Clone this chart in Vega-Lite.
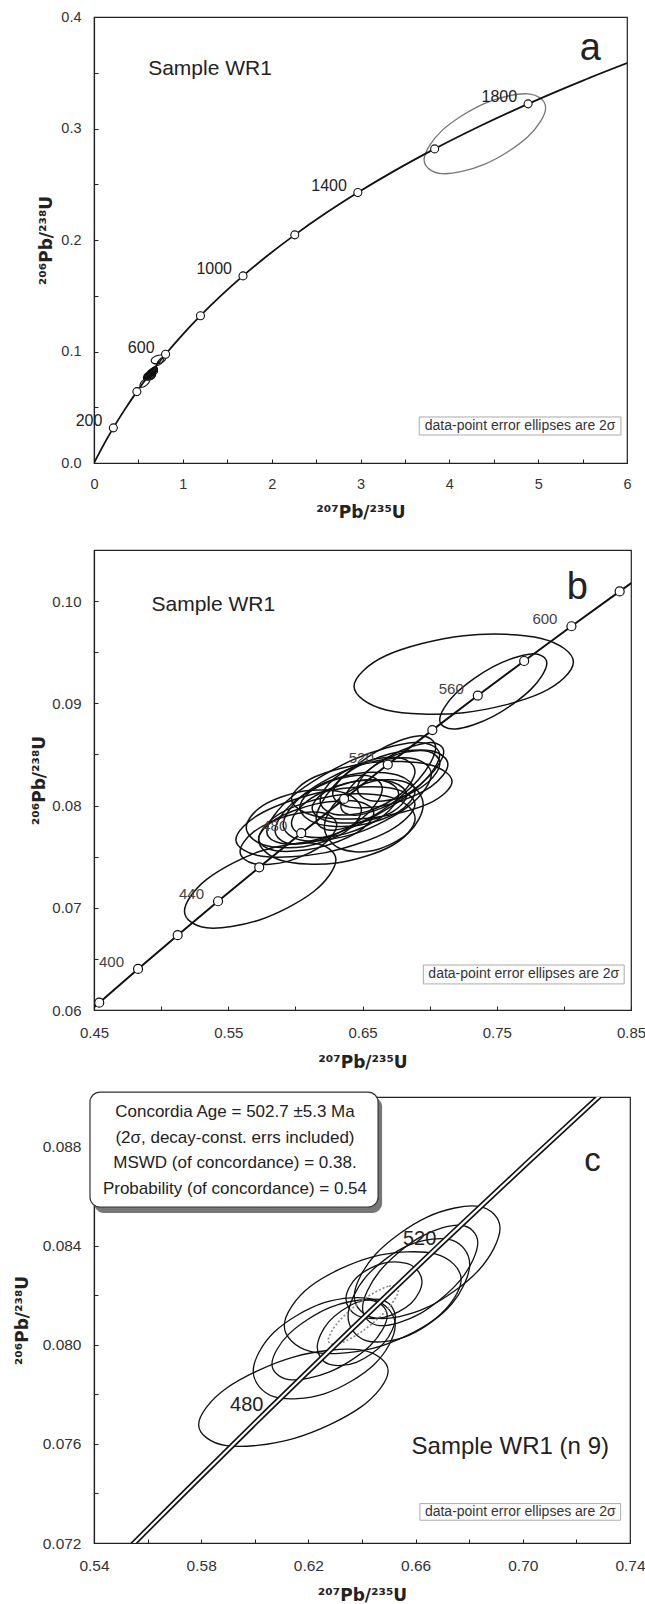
{
"$schema":"https://vega.github.io/schema/vega-lite/v6.json",
"background":"white",
"padding":{"left":12,"top":8,"right":0,"bottom":0},
"bounds":"flush",
"spacing":87,
"config":{
 "font":"Liberation Sans",
 "view":{"stroke":"#222","strokeWidth":1.2},
 "axis":{"grid":false,"domainColor":"#222","domainWidth":1.2,"tickColor":"#222","tickWidth":1,"tickSize":-4,"labelColor":"#333","labelFont":"Liberation Sans","titleFont":"DejaVu Sans","titleFontWeight":"bold","titleColor":"#222","titleFontSize":17,"labelFlush":false,"labelOverlap":false}
},
"datasets":{
 "curveA":[
  {"t":0,"x":0,"y":0},{"t":100,"x":0.1035,"y":0.015633},{"t":200,"x":0.2177,"y":0.03151},{"t":300,"x":0.34374,"y":0.04764},
  {"t":400,"x":0.48281,"y":0.06402},{"t":500,"x":0.63628,"y":0.08065},{"t":600,"x":0.80563,"y":0.09754},{"t":700,"x":0.99251,"y":0.1147},
  {"t":800,"x":1.19873,"y":0.13213},{"t":900,"x":1.42629,"y":0.14983},{"t":1000,"x":1.67741,"y":0.16782},{"t":1100,"x":1.95452,"y":0.18607},
  {"t":1200,"x":2.2603,"y":0.2046},{"t":1300,"x":2.59774,"y":0.22344},{"t":1400,"x":2.97009,"y":0.24256},{"t":1500,"x":3.38099,"y":0.26199},
  {"t":1600,"x":3.83441,"y":0.28172},{"t":1700,"x":4.33477,"y":0.30175},{"t":1800,"x":4.8869,"y":0.32211},{"t":1900,"x":5.49618,"y":0.34277},
  {"t":1976,"x":6.0011,"y":0.35868}],
 "markA":[
  {"t":200,"x":0.2177,"y":0.03151},{"t":400,"x":0.48281,"y":0.06402},{"t":600,"x":0.80563,"y":0.09754},{"t":800,"x":1.19873,"y":0.13213},
  {"t":1000,"x":1.67741,"y":0.16782},{"t":1200,"x":2.2603,"y":0.2046},{"t":1400,"x":2.97009,"y":0.24256},{"t":1600,"x":3.83441,"y":0.28172},
  {"t":1800,"x":4.8869,"y":0.32211}],
 "ellA":[
  {"e":"A1","k":0,"x":5.084,"y":0.31864},{"e":"A1","k":1,"x":4.8837,"y":0.33109},{"e":"A1","k":2,"x":4.4,"y":0.32258},{"e":"A1","k":3,"x":3.9163,"y":0.29809},
  {"e":"A1","k":4,"x":3.716,"y":0.27196},{"e":"A1","k":5,"x":3.9163,"y":0.25951},{"e":"A1","k":6,"x":4.4,"y":0.26802},{"e":"A1","k":7,"x":4.8837,"y":0.29251}],
 "curveB":[
  {"t":370,"x":0.43964,"y":0.05908},{"t":380,"x":0.45389,"y":0.06072},{"t":400,"x":0.48281,"y":0.06402},{"t":420,"x":0.51231,"y":0.06732},
  {"t":440,"x":0.54239,"y":0.07064},{"t":460,"x":0.57307,"y":0.07396},{"t":480,"x":0.60436,"y":0.0773},{"t":500,"x":0.63628,"y":0.08065},
  {"t":520,"x":0.66883,"y":0.08401},{"t":540,"x":0.70203,"y":0.08738},{"t":560,"x":0.73588,"y":0.09076},{"t":580,"x":0.77042,"y":0.09414},
  {"t":600,"x":0.80563,"y":0.09754},{"t":620,"x":0.84155,"y":0.10095},{"t":630,"x":0.85978,"y":0.10266}],
 "markB":[
  {"t":380,"x":0.45389,"y":0.06072},{"t":400,"x":0.48281,"y":0.06402},{"t":420,"x":0.51231,"y":0.06732},
  {"t":440,"x":0.54239,"y":0.07064},{"t":460,"x":0.57307,"y":0.07396},{"t":480,"x":0.60436,"y":0.0773},{"t":500,"x":0.63628,"y":0.08065},
  {"t":520,"x":0.66883,"y":0.08401},{"t":540,"x":0.70203,"y":0.08738},{"t":560,"x":0.73588,"y":0.09076},{"t":580,"x":0.77042,"y":0.09414},
  {"t":600,"x":0.80563,"y":0.09754},{"t":620,"x":0.84155,"y":0.10095}],
 "curveC":[
  {"t":440,"x":0.54239,"y":0.07064},{"t":460,"x":0.57307,"y":0.07396},{"t":480,"x":0.60436,"y":0.0773},{"t":500,"x":0.63628,"y":0.08065},
  {"t":520,"x":0.66883,"y":0.08401},{"t":540,"x":0.70203,"y":0.08738},{"t":560,"x":0.73588,"y":0.09076}],
 "ellB":[
  {"e":"B1","k":0,"x":0.8071,"y":0.094035},{"e":"B1","k":1,"x":0.78317,"y":0.096352},{"e":"B1","k":2,"x":0.7254,"y":0.096618},{"e":"B1","k":3,"x":0.66763,"y":0.094676},
  {"e":"B1","k":4,"x":0.6437,"y":0.091665},{"e":"B1","k":5,"x":0.66763,"y":0.089348},{"e":"B1","k":6,"x":0.7254,"y":0.089082},{"e":"B1","k":7,"x":0.78317,"y":0.091024},
  {"e":"B2","k":0,"x":0.7873,"y":0.09392},{"e":"B2","k":1,"x":0.77561,"y":0.094833},{"e":"B2","k":2,"x":0.7474,"y":0.093594},{"e":"B2","k":3,"x":0.71919,"y":0.09093},
  {"e":"B2","k":4,"x":0.7075,"y":0.0884},{"e":"B2","k":5,"x":0.71919,"y":0.087487},{"e":"B2","k":6,"x":0.7474,"y":0.088726},{"e":"B2","k":7,"x":0.77561,"y":0.09139},
  {"e":"B3","k":0,"x":0.6302,"y":0.074688},{"e":"B3","k":1,"x":0.61368,"y":0.076318},{"e":"B3","k":2,"x":0.5738,"y":0.075524},{"e":"B3","k":3,"x":0.53392,"y":0.072771},
  {"e":"B3","k":4,"x":0.5174,"y":0.069672},{"e":"B3","k":5,"x":0.53392,"y":0.068042},{"e":"B3","k":6,"x":0.5738,"y":0.068836},{"e":"B3","k":7,"x":0.61368,"y":0.071589},
  {"e":"E1","k":0,"x":0.6891,"y":0.080135},{"e":"E1","k":1,"x":0.66956,"y":0.081752},{"e":"E1","k":2,"x":0.6224,"y":0.081405},{"e":"E1","k":3,"x":0.57524,"y":0.079298},
  {"e":"E1","k":4,"x":0.5557,"y":0.076665},{"e":"E1","k":5,"x":0.57524,"y":0.075048},{"e":"E1","k":6,"x":0.6224,"y":0.075395},{"e":"E1","k":7,"x":0.66956,"y":0.077502},
  {"e":"E2","k":0,"x":0.6308,"y":0.07809},{"e":"E2","k":1,"x":0.62026,"y":0.079292},{"e":"E2","k":2,"x":0.5948,"y":0.079034},{"e":"E2","k":3,"x":0.56934,"y":0.077468},
  {"e":"E2","k":4,"x":0.5588,"y":0.07551},{"e":"E2","k":5,"x":0.56934,"y":0.074308},{"e":"E2","k":6,"x":0.5948,"y":0.074566},{"e":"E2","k":7,"x":0.62026,"y":0.076132},
  {"e":"E3","k":0,"x":0.6892,"y":0.078741},{"e":"E3","k":1,"x":0.67212,"y":0.080777},{"e":"E3","k":2,"x":0.6309,"y":0.08101},{"e":"E3","k":3,"x":0.58968,"y":0.079305},
  {"e":"E3","k":4,"x":0.5726,"y":0.076659},{"e":"E3","k":5,"x":0.58968,"y":0.074623},{"e":"E3","k":6,"x":0.6309,"y":0.07439},{"e":"E3","k":7,"x":0.67212,"y":0.076095},
  {"e":"E4","k":0,"x":0.7075,"y":0.084928},{"e":"E4","k":1,"x":0.68864,"y":0.08616},{"e":"E4","k":2,"x":0.6431,"y":0.084487},{"e":"E4","k":3,"x":0.59756,"y":0.080889},
  {"e":"E4","k":4,"x":0.5787,"y":0.077472},{"e":"E4","k":5,"x":0.59756,"y":0.07624},{"e":"E4","k":6,"x":0.6431,"y":0.077913},{"e":"E4","k":7,"x":0.68864,"y":0.081511},
  {"e":"E5","k":0,"x":0.7013,"y":0.083054},{"e":"E5","k":1,"x":0.68513,"y":0.084649},{"e":"E5","k":2,"x":0.6461,"y":0.083872},{"e":"E5","k":3,"x":0.60707,"y":0.081178},
  {"e":"E5","k":4,"x":0.5909,"y":0.078146},{"e":"E5","k":5,"x":0.60707,"y":0.076551},{"e":"E5","k":6,"x":0.6461,"y":0.077328},{"e":"E5","k":7,"x":0.68513,"y":0.080022},
  {"e":"E6","k":0,"x":0.7167,"y":0.082352},{"e":"E6","k":1,"x":0.69919,"y":0.084018},{"e":"E6","k":2,"x":0.6569,"y":0.084209},{"e":"E6","k":3,"x":0.61461,"y":0.082813},
  {"e":"E6","k":4,"x":0.5971,"y":0.080648},{"e":"E6","k":5,"x":0.61461,"y":0.078982},{"e":"E6","k":6,"x":0.6569,"y":0.078791},{"e":"E6","k":7,"x":0.69919,"y":0.080187},
  {"e":"E7","k":0,"x":0.7045,"y":0.085665},{"e":"E7","k":1,"x":0.69147,"y":0.086811},{"e":"E7","k":2,"x":0.66,"y":0.085256},{"e":"E7","k":3,"x":0.62853,"y":0.081911},
  {"e":"E7","k":4,"x":0.6155,"y":0.078735},{"e":"E7","k":5,"x":0.62853,"y":0.077589},{"e":"E7","k":6,"x":0.66,"y":0.079144},{"e":"E7","k":7,"x":0.69147,"y":0.082489},
  {"e":"E8","k":0,"x":0.6891,"y":0.083325},{"e":"E8","k":1,"x":0.67876,"y":0.084653},{"e":"E8","k":2,"x":0.6538,"y":0.084368},{"e":"E8","k":3,"x":0.62884,"y":0.082638},
  {"e":"E8","k":4,"x":0.6185,"y":0.080475},{"e":"E8","k":5,"x":0.62884,"y":0.079147},{"e":"E8","k":6,"x":0.6538,"y":0.079432},{"e":"E8","k":7,"x":0.67876,"y":0.081162},
  {"e":"E9","k":0,"x":0.6769,"y":0.081125},{"e":"E9","k":1,"x":0.66521,"y":0.082453},{"e":"E9","k":2,"x":0.637,"y":0.082168},{"e":"E9","k":3,"x":0.60879,"y":0.080438},
  {"e":"E9","k":4,"x":0.5971,"y":0.078275},{"e":"E9","k":5,"x":0.60879,"y":0.076947},{"e":"E9","k":6,"x":0.637,"y":0.077232},{"e":"E9","k":7,"x":0.66521,"y":0.078962},
  {"e":"E10","k":0,"x":0.6584,"y":0.07925},{"e":"E10","k":1,"x":0.64583,"y":0.080415},{"e":"E10","k":2,"x":0.6155,"y":0.080165},{"e":"E10","k":3,"x":0.58517,"y":0.078647},
  {"e":"E10","k":4,"x":0.5726,"y":0.07675},{"e":"E10","k":5,"x":0.58517,"y":0.075585},{"e":"E10","k":6,"x":0.6155,"y":0.075835},{"e":"E10","k":7,"x":0.64583,"y":0.077353},
  {"e":"E11","k":0,"x":0.6829,"y":0.081039},{"e":"E11","k":1,"x":0.67259,"y":0.082289},{"e":"E11","k":2,"x":0.6477,"y":0.082432},{"e":"E11","k":3,"x":0.62281,"y":0.081385},
  {"e":"E11","k":4,"x":0.6125,"y":0.079761},{"e":"E11","k":5,"x":0.62281,"y":0.078511},{"e":"E11","k":6,"x":0.6477,"y":0.078368},{"e":"E11","k":7,"x":0.67259,"y":0.079415},
  {"e":"E12","k":0,"x":0.7136,"y":0.084025},{"e":"E12","k":1,"x":0.70103,"y":0.085353},{"e":"E12","k":2,"x":0.6707,"y":0.085068},{"e":"E12","k":3,"x":0.64037,"y":0.083338},
  {"e":"E12","k":4,"x":0.6278,"y":0.081175},{"e":"E12","k":5,"x":0.64037,"y":0.079847},{"e":"E12","k":6,"x":0.6707,"y":0.080132},{"e":"E12","k":7,"x":0.70103,"y":0.081862},
  {"e":"E13","k":0,"x":0.7076,"y":0.084145},{"e":"E13","k":1,"x":0.69861,"y":0.085305},{"e":"E13","k":2,"x":0.6769,"y":0.085056},{"e":"E13","k":3,"x":0.65519,"y":0.083544},
  {"e":"E13","k":4,"x":0.6462,"y":0.081655},{"e":"E13","k":5,"x":0.65519,"y":0.080495},{"e":"E13","k":6,"x":0.6769,"y":0.080744},{"e":"E13","k":7,"x":0.69861,"y":0.082256},
  {"e":"E14","k":0,"x":0.6647,"y":0.081628},{"e":"E14","k":1,"x":0.65301,"y":0.082946},{"e":"E14","k":2,"x":0.6248,"y":0.082304},{"e":"E14","k":3,"x":0.59659,"y":0.080078},
  {"e":"E14","k":4,"x":0.5849,"y":0.077572},{"e":"E14","k":5,"x":0.59659,"y":0.076254},{"e":"E14","k":6,"x":0.6248,"y":0.076896},{"e":"E14","k":7,"x":0.65301,"y":0.079122},
  {"e":"E15","k":0,"x":0.6492,"y":0.079555},{"e":"E15","k":1,"x":0.63663,"y":0.081227},{"e":"E15","k":2,"x":0.6063,"y":0.081419},{"e":"E15","k":3,"x":0.57597,"y":0.080018},
  {"e":"E15","k":4,"x":0.5634,"y":0.077845},{"e":"E15","k":5,"x":0.57597,"y":0.076173},{"e":"E15","k":6,"x":0.6063,"y":0.075981},{"e":"E15","k":7,"x":0.63663,"y":0.077382},
  {"e":"E16","k":0,"x":0.6891,"y":0.081401},{"e":"E16","k":1,"x":0.67653,"y":0.082968},{"e":"E16","k":2,"x":0.6462,"y":0.083147},{"e":"E16","k":3,"x":0.61587,"y":0.081835},
  {"e":"E16","k":4,"x":0.6033,"y":0.079799},{"e":"E16","k":5,"x":0.61587,"y":0.078232},{"e":"E16","k":6,"x":0.6462,"y":0.078053},{"e":"E16","k":7,"x":0.67653,"y":0.079365},
  {"e":"E17","k":0,"x":0.6952,"y":0.080068},{"e":"E17","k":1,"x":0.68442,"y":0.082157},{"e":"E17","k":2,"x":0.6584,"y":0.082396},{"e":"E17","k":3,"x":0.63238,"y":0.080646},
  {"e":"E17","k":4,"x":0.6216,"y":0.077932},{"e":"E17","k":5,"x":0.63238,"y":0.075843},{"e":"E17","k":6,"x":0.6584,"y":0.075604},{"e":"E17","k":7,"x":0.68442,"y":0.077354},
  {"e":"E18","k":0,"x":0.7105,"y":0.08527},{"e":"E18","k":1,"x":0.69928,"y":0.086153},{"e":"E18","k":2,"x":0.6722,"y":0.084955},{"e":"E18","k":3,"x":0.64512,"y":0.082377},
  {"e":"E18","k":4,"x":0.6339,"y":0.07993},{"e":"E18","k":5,"x":0.64512,"y":0.079047},{"e":"E18","k":6,"x":0.6722,"y":0.080245},{"e":"E18","k":7,"x":0.69928,"y":0.082823}],
 "ellC":[
  {"e":"C1","k":0,"x":0.64975,"y":0.078944},{"e":"C1","k":1,"x":0.6394,"y":0.07979},{"e":"C1","k":2,"x":0.6144,"y":0.079505},{"e":"C1","k":3,"x":0.5894,"y":0.078247},
  {"e":"C1","k":4,"x":0.57905,"y":0.076776},{"e":"C1","k":5,"x":0.5894,"y":0.07593},{"e":"C1","k":6,"x":0.6144,"y":0.076215},{"e":"C1","k":7,"x":0.6394,"y":0.077473},
  {"e":"C2","k":0,"x":0.6524,"y":0.080787},{"e":"C2","k":1,"x":0.64464,"y":0.081816},{"e":"C2","k":2,"x":0.6259,"y":0.0817},{"e":"C2","k":3,"x":0.60716,"y":0.080505},
  {"e":"C2","k":4,"x":0.5994,"y":0.078933},{"e":"C2","k":5,"x":0.60716,"y":0.077904},{"e":"C2","k":6,"x":0.6259,"y":0.07802},{"e":"C2","k":7,"x":0.64464,"y":0.079215},
  {"e":"C3","k":0,"x":0.677,"y":0.082632},{"e":"C3","k":1,"x":0.66733,"y":0.083666},{"e":"C3","k":2,"x":0.644,"y":0.083549},{"e":"C3","k":3,"x":0.62067,"y":0.082349},
  {"e":"C3","k":4,"x":0.611,"y":0.080768},{"e":"C3","k":5,"x":0.62067,"y":0.079734},{"e":"C3","k":6,"x":0.644,"y":0.079851},{"e":"C3","k":7,"x":0.66733,"y":0.081051},
  {"e":"C4","k":0,"x":0.6915,"y":0.084698},{"e":"C4","k":1,"x":0.68353,"y":0.085587},{"e":"C4","k":2,"x":0.6643,"y":0.085154},{"e":"C4","k":3,"x":0.64507,"y":0.083652},
  {"e":"C4","k":4,"x":0.6371,"y":0.081962},{"e":"C4","k":5,"x":0.64507,"y":0.081073},{"e":"C4","k":6,"x":0.6643,"y":0.081506},{"e":"C4","k":7,"x":0.68353,"y":0.083008},
  {"e":"C5","k":0,"x":0.6802,"y":0.08325},{"e":"C5","k":1,"x":0.67355,"y":0.084228},{"e":"C5","k":2,"x":0.6575,"y":0.084019},{"e":"C5","k":3,"x":0.64145,"y":0.082743},
  {"e":"C5","k":4,"x":0.6348,"y":0.08115},{"e":"C5","k":5,"x":0.64145,"y":0.080172},{"e":"C5","k":6,"x":0.6575,"y":0.080381},{"e":"C5","k":7,"x":0.67355,"y":0.081657},
  {"e":"C6","k":0,"x":0.6624,"y":0.082545},{"e":"C6","k":1,"x":0.65824,"y":0.08322},{"e":"C6","k":2,"x":0.6482,"y":0.083297},{"e":"C6","k":3,"x":0.63816,"y":0.082732},
  {"e":"C6","k":4,"x":0.634,"y":0.081855},{"e":"C6","k":5,"x":0.63816,"y":0.08118},{"e":"C6","k":6,"x":0.6482,"y":0.081103},{"e":"C6","k":7,"x":0.65824,"y":0.081668},
  {"e":"C7","k":0,"x":0.6525,"y":0.081108},{"e":"C7","k":1,"x":0.64822,"y":0.081782},{"e":"C7","k":2,"x":0.6379,"y":0.081706},{"e":"C7","k":3,"x":0.62758,"y":0.080923},
  {"e":"C7","k":4,"x":0.6233,"y":0.079892},{"e":"C7","k":5,"x":0.62758,"y":0.079218},{"e":"C7","k":6,"x":0.6379,"y":0.079294},{"e":"C7","k":7,"x":0.64822,"y":0.080077},
  {"e":"C8","k":0,"x":0.6832,"y":0.08412},{"e":"C8","k":1,"x":0.6769,"y":0.084824},{"e":"C8","k":2,"x":0.6617,"y":0.084343},{"e":"C8","k":3,"x":0.6465,"y":0.082958},
  {"e":"C8","k":4,"x":0.6402,"y":0.08148},{"e":"C8","k":5,"x":0.6465,"y":0.080776},{"e":"C8","k":6,"x":0.6617,"y":0.081257},{"e":"C8","k":7,"x":0.6769,"y":0.082642},
  {"e":"C9","k":0,"x":0.6494,"y":0.081172},{"e":"C9","k":1,"x":0.6431,"y":0.081804},{"e":"C9","k":2,"x":0.6279,"y":0.081496},{"e":"C9","k":3,"x":0.6127,"y":0.080429},
  {"e":"C9","k":4,"x":0.6064,"y":0.079228},{"e":"C9","k":5,"x":0.6127,"y":0.078596},{"e":"C9","k":6,"x":0.6279,"y":0.078904},{"e":"C9","k":7,"x":0.6431,"y":0.079971}],
 "ageC":[
  {"e":"D","k":0,"x":0.6536,"y":0.082212},{"e":"D","k":1,"x":0.64976,"y":0.082358},{"e":"D","k":2,"x":0.6405,"y":0.081827},{"e":"D","k":3,"x":0.63124,"y":0.080928},
  {"e":"D","k":4,"x":0.6274,"y":0.080188},{"e":"D","k":5,"x":0.63124,"y":0.080042},{"e":"D","k":6,"x":0.6405,"y":0.080573},{"e":"D","k":7,"x":0.64976,"y":0.081472}]
},
"vconcat":[
 {
  "width":533,"height":446,
  "encoding":{
   "x":{"type":"quantitative","scale":{"domain":[0,6],"nice":false,"zero":false},
    "axis":{"title":"²⁰⁷Pb/²³⁵U","values":[0,0.5,1,1.5,2,2.5,3,3.5,4,4.5,5,5.5,6],"labelExpr":"abs(datum.value - round(datum.value)) < 0.001 ? format(datum.value, 'd') : ''","labelFontSize":14.5,"labelPadding":18.8,"titlePadding":13.5}},
   "y":{"type":"quantitative","scale":{"domain":[0,0.4],"nice":false,"zero":false},
    "axis":{"title":"²⁰⁶Pb/²³⁸U","values":[0,0.05,0.1,0.15,0.2,0.25,0.3,0.35,0.4],"labelExpr":"abs(datum.value*10 - round(datum.value*10)) < 0.001 ? format(datum.value, '.1f') : ''","labelFontSize":14.5,"labelPadding":17,"titlePadding":5}}
  },
  "layer":[
   {"data":{"name":"ellB"},"mark":{"type":"line","interpolate":"cardinal-closed","stroke":"#111","strokeWidth":1.1,"clip":true},"encoding":{"x":{"field":"x"},"y":{"field":"y"},"detail":{"field":"e"},"order":{"field":"k"}}},
   {"data":{"name":"ellA"},"mark":{"type":"line","interpolate":"cardinal-closed","stroke":"#777","strokeWidth":1.3,"clip":true},"encoding":{"x":{"field":"x"},"y":{"field":"y"},"detail":{"field":"e"},"order":{"field":"k"}}},
   {"data":{"name":"curveA"},"mark":{"type":"line","interpolate":"monotone","stroke":"#111","strokeWidth":1.8,"clip":true},"encoding":{"x":{"field":"x"},"y":{"field":"y"}}},
   {"data":{"name":"markA"},"mark":{"type":"point","shape":"circle","filled":true,"fill":"white","stroke":"#111","strokeWidth":1.1,"size":64,"opacity":1},"encoding":{"x":{"field":"x"},"y":{"field":"y"}}},
   {"data":{"name":"markA"},"transform":[{"filter":"datum.t % 400 == 200"}],"mark":{"type":"text","align":"right","baseline":"middle","dx":-11,"dy":-6.5,"fontSize":16,"color":"#222"},"encoding":{"x":{"field":"x"},"y":{"field":"y"},"text":{"field":"t","type":"nominal"}}},
   {"data":{"values":[{}]},"mark":{"type":"text","text":"Sample WR1","align":"left","baseline":"alphabetic","fontSize":21,"color":"#222"},"encoding":{"x":{"datum":0.61},"y":{"datum":0.3483}}},
   {"data":{"values":[{}]},"mark":{"type":"text","text":"a","align":"center","baseline":"alphabetic","fontSize":38,"color":"#222"},"encoding":{"x":{"datum":5.588},"y":{"datum":0.3614}}},
   {"data":{"values":[{}]},"mark":{"type":"rect","fill":"white","stroke":"#aaa","strokeWidth":1},"encoding":{"x":{"datum":3.661},"x2":{"datum":5.932},"y":{"datum":0.0251},"y2":{"datum":0.04126}}},
   {"data":{"values":[{}]},"mark":{"type":"text","text":"data-point error ellipses are 2σ","align":"center","baseline":"middle","fontSize":14,"color":"#333"},"encoding":{"x":{"datum":4.797},"y":{"datum":0.0332}}}
  ]
 },
 {
  "width":537,"height":460,
  "encoding":{
   "x":{"type":"quantitative","scale":{"domain":[0.45,0.85],"nice":false,"zero":false},
    "axis":{"title":"²⁰⁷Pb/²³⁵U","values":[0.45,0.5,0.55,0.6,0.65,0.7,0.75,0.8,0.85],"labelExpr":"abs((datum.value-0.45)*10 - round((datum.value-0.45)*10)) < 0.001 ? format(datum.value, '.2f') : ''","labelFontSize":15,"labelPadding":19.5,"titlePadding":13.5}},
   "y":{"type":"quantitative","scale":{"domain":[0.06,0.105],"nice":false,"zero":false},
    "axis":{"title":"²⁰⁶Pb/²³⁸U","values":[0.06,0.065,0.07,0.075,0.08,0.085,0.09,0.095,0.1],"labelExpr":"abs(datum.value*100 - round(datum.value*100)) < 0.001 ? format(datum.value, '.2f') : ''","labelFontSize":15,"labelPadding":17,"titlePadding":3}}
  },
  "layer":[
   {"data":{"name":"ellB"},"mark":{"type":"line","interpolate":"cardinal-closed","stroke":"#111","strokeWidth":1.5,"clip":true},"encoding":{"x":{"field":"x"},"y":{"field":"y"},"detail":{"field":"e"},"order":{"field":"k"}}},
   {"data":{"name":"curveB"},"mark":{"type":"line","interpolate":"monotone","stroke":"#111","strokeWidth":2,"clip":true},"encoding":{"x":{"field":"x"},"y":{"field":"y"}}},
   {"data":{"name":"markB"},"mark":{"type":"point","shape":"circle","filled":true,"fill":"white","stroke":"#111","strokeWidth":1.2,"size":81,"opacity":1},"encoding":{"x":{"field":"x"},"y":{"field":"y"}}},
   {"data":{"name":"markB"},"transform":[{"filter":"datum.t % 40 == 0 && datum.t >= 400 && datum.t <= 600"}],"mark":{"type":"text","align":"right","baseline":"middle","dx":-14,"dy":-7,"fontSize":15,"color":"#444"},"encoding":{"x":{"field":"x"},"y":{"field":"y"},"text":{"field":"t","type":"nominal"}}},
   {"data":{"values":[{}]},"mark":{"type":"text","text":"Sample WR1","align":"left","baseline":"alphabetic","fontSize":21,"color":"#222"},"encoding":{"x":{"datum":0.4928},"y":{"datum":0.09908}}},
   {"data":{"values":[{}]},"mark":{"type":"text","text":"b","align":"center","baseline":"alphabetic","fontSize":38,"color":"#222"},"encoding":{"x":{"datum":0.81},"y":{"datum":0.10016}}},
   {"data":{"values":[{}]},"mark":{"type":"rect","fill":"white","stroke":"#aaa","strokeWidth":1},"encoding":{"x":{"datum":0.6953},"x2":{"datum":0.8449},"y":{"datum":0.06255},"y2":{"datum":0.0644}}},
   {"data":{"values":[{}]},"mark":{"type":"text","text":"data-point error ellipses are 2σ","align":"center","baseline":"middle","fontSize":14,"color":"#333"},"encoding":{"x":{"datum":0.7701},"y":{"datum":0.06348}}}
  ]
 },
 {
  "width":536,"height":446,
  "encoding":{
   "x":{"type":"quantitative","scale":{"domain":[0.54,0.74],"nice":false,"zero":false},
    "axis":{"title":"²⁰⁷Pb/²³⁵U","values":[0.54,0.56,0.58,0.6,0.62,0.64,0.66,0.68,0.7,0.72,0.74],"labelExpr":"abs((datum.value-0.54)*25 - round((datum.value-0.54)*25)) < 0.001 ? format(datum.value, '.2f') : ''","labelFontSize":15.5,"labelPadding":19.3,"titlePadding":13.5}},
   "y":{"type":"quantitative","scale":{"domain":[0.072,0.09],"nice":false,"zero":false},
    "axis":{"title":"²⁰⁶Pb/²³⁸U","values":[0.072,0.074,0.076,0.078,0.08,0.082,0.084,0.086,0.088,0.09],"labelExpr":"abs((datum.value-0.072)*250 - round((datum.value-0.072)*250)) < 0.001 ? format(datum.value, '.3f') : ''","labelFontSize":15.5,"labelPadding":17,"titlePadding":11}}
  },
  "layer":[
   {"data":{"name":"ellC"},"mark":{"type":"line","interpolate":"cardinal-closed","stroke":"#111","strokeWidth":1.3,"clip":true},"encoding":{"x":{"field":"x"},"y":{"field":"y"},"detail":{"field":"e"},"order":{"field":"k"}}},
   {"data":{"name":"ageC"},"mark":{"type":"line","interpolate":"cardinal-closed","stroke":"#888","strokeWidth":1.6,"strokeDash":[2,2],"clip":true},"encoding":{"x":{"field":"x"},"y":{"field":"y"},"detail":{"field":"e"},"order":{"field":"k"}}},
   {"data":{"name":"curveC"},"mark":{"type":"line","interpolate":"monotone","stroke":"#111","strokeWidth":5.5,"clip":true},"encoding":{"x":{"field":"x"},"y":{"field":"y"}}},
   {"data":{"name":"curveC"},"mark":{"type":"line","interpolate":"monotone","stroke":"white","strokeWidth":2.2,"clip":true},"encoding":{"x":{"field":"x"},"y":{"field":"y"}}},
   {"data":{"name":"curveC"},"transform":[{"filter":"datum.t == 480 || datum.t == 520"}],"mark":{"type":"text","align":"right","baseline":"middle","dx":-3,"dy":-6.5,"fontSize":20,"color":"#222"},"encoding":{"x":{"field":"x"},"y":{"field":"y"},"text":{"field":"t","type":"nominal"}}},
   {"data":{"values":[{}]},"mark":{"type":"text","text":"Sample WR1 (n 9)","align":"left","baseline":"alphabetic","fontSize":24,"color":"#222"},"encoding":{"x":{"datum":0.6585},"y":{"datum":0.0756}}},
   {"data":{"values":[{}]},"mark":{"type":"text","text":"c","align":"center","baseline":"alphabetic","fontSize":33,"color":"#222"},"encoding":{"x":{"datum":0.726},"y":{"datum":0.08701}}},
   {"data":{"values":[{}]},"mark":{"type":"rect","fill":"#777","cornerRadius":10},"encoding":{"x":{"datum":0.54},"x2":{"datum":0.6475},"y":{"datum":0.08532},"y2":{"datum":0.09}}},
   {"data":{"values":[{}]},"mark":{"type":"rect","fill":"white","stroke":"#333","strokeWidth":1.2,"cornerRadius":10},"encoding":{"x":{"datum":0.5385},"x2":{"datum":0.646},"y":{"datum":0.08556},"y2":{"datum":0.0902}}},
   {"data":{"values":[{}]},"mark":{"type":"text","text":["Concordia Age = 502.7 ±5.3 Ma","(2σ, decay-const. errs included)","MSWD (of concordance) = 0.38.","Probability (of concordance) = 0.54"],"align":"center","baseline":"middle","fontSize":17,"lineHeight":25.6,"color":"#222"},"encoding":{"x":{"datum":0.5926},"y":{"datum":0.08939}}},
   {"data":{"values":[{}]},"mark":{"type":"rect","fill":"white","stroke":"#aaa","strokeWidth":1},"encoding":{"x":{"datum":0.6616},"x2":{"datum":0.7365},"y":{"datum":0.07292},"y2":{"datum":0.07359}}},
   {"data":{"values":[{}]},"mark":{"type":"text","text":"data-point error ellipses are 2σ","align":"center","baseline":"middle","fontSize":14,"color":"#333"},"encoding":{"x":{"datum":0.69905},"y":{"datum":0.073255}}}
  ]
 }
]
}
